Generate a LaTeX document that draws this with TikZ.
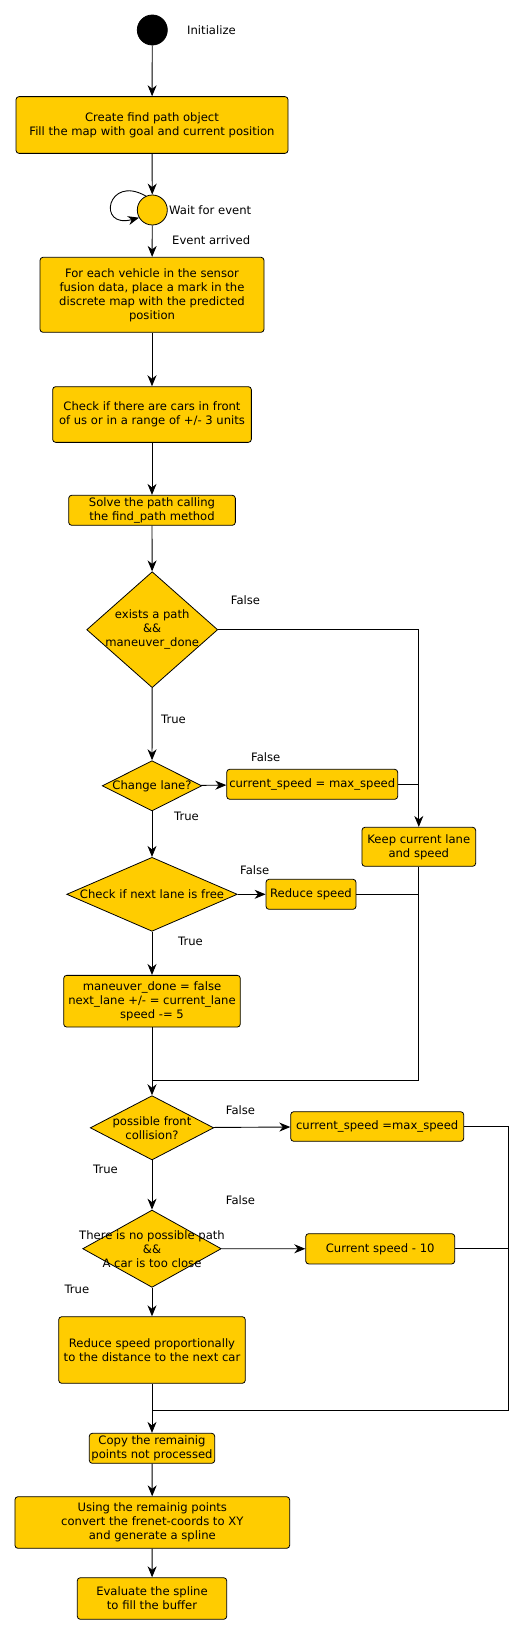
\documentclass[tikz,border=0pt]{standalone}
\usepackage{fontspec}
\setmainfont{DejaVu Sans}
\usepackage{xcolor}
\usetikzlibrary{shapes.geometric, arrows.meta, positioning, calc}
\definecolor{flowyellow}{RGB}{255, 204, 0}

\tikzset{
    stepbox/.style={draw, fill=flowyellow, line width=0.8pt, rounded corners=3pt,
                    inner sep=0pt, align=center},
    decision/.style={diamond, draw, fill=flowyellow, line width=0.8pt, inner sep=0pt},
    dot/.style={circle, draw, line width=0.8pt, minimum size=30pt, inner sep=0pt},
    flowline/.style={line width=0.9pt, -{Stealth[length=11pt, width=9pt, inset=3.5pt]}},
    joinline/.style={line width=0.9pt},
    tag/.style={anchor=west, inner sep=0pt}
}

\begin{document}
\begin{tikzpicture}[x=1pt, y=-1pt, font=\fontsize{11.6}{14}\selectfont]
    \useasboundingbox (0,0) rectangle (529,1635);

    % start and first steps
    \node[dot, fill=black] (start) at (152.3,30) {};
    \node[tag] (initlbl) at (187,30) {Initialize};
    \node[stepbox, minimum width=272pt, minimum height=56.7pt] (create) at (152,125)
        {Create find path object\\Fill the map with goal and current position};
    \node[dot, fill=flowyellow] (wait) at (152.3,210) {};
    \node[tag] (waitlbl) at (169,210) {Wait for event};
    \node[tag] (eventlbl) at (172,240) {Event arrived};
    \node[stepbox, minimum width=224pt, minimum height=75pt] (mark) at (152,294.8)
        {For each vehicle in the sensor\\fusion data, place a mark in the\\discrete map with the predicted\\position};
    \node[stepbox, minimum width=198.7pt, minimum height=55.7pt] (cars) at (152,414.5)
        {Check if there are cars in front\\of us or in a range of +/- 3 units};
    \node[stepbox, minimum width=166.7pt, minimum height=30pt] (solve) at (152,510.3)
        {Solve the path calling\\the find\_path method};

    % lane decisions
    \node[decision, minimum width=131pt, minimum height=116pt,
          label={[align=center]center:exists a path\\\&\&\\maneuver\_done}] (path) at (152.2,629.7) {};
    \node[decision, minimum width=99.4pt, minimum height=50.3pt,
          label={center:Change lane?}] (lane) at (152,785.8) {};
    \node[stepbox, minimum width=171pt, minimum height=30pt] (maxspeed) at (312.2,784.3)
        {current\_speed = max\_speed};
    \node[stepbox, minimum width=113.7pt, minimum height=39pt] (keep) at (418.8,846.8)
        {Keep current lane\\and speed};
    \node[decision, minimum width=170.6pt, minimum height=74pt,
          label={center:Check if next lane is free}] (free) at (152,894.3) {};
    \node[stepbox, minimum width=90pt, minimum height=30pt] (slow) at (311,894.3)
        {Reduce speed};
    \node[stepbox, minimum width=176.6pt, minimum height=51.7pt] (maneuver) at (152,1001.2)
        {maneuver\_done = false\\next\_lane +/- = current\_lane\\speed -= 5};

    % speed decisions
    \node[decision, minimum width=123.4pt, minimum height=64.3pt,
          label={[align=center]center:possible front\\collision?}] (collide) at (152,1127.8) {};
    \node[stepbox, minimum width=173pt, minimum height=29.6pt] (maxspeedb) at (377.2,1126.5)
        {current\_speed =max\_speed};
    \node[decision, minimum width=138.6pt, minimum height=77.3pt,
          label={[align=center]center:There is no possible path\\\&\&\\A car is too close}] (close) at (152,1248.7) {};
    \node[stepbox, minimum width=149pt, minimum height=30.3pt] (minus) at (380.2,1248.8)
        {Current speed - 10};
    \node[stepbox, minimum width=186.6pt, minimum height=66.6pt] (prop) at (152,1350)
        {Reduce speed proportionally\\to the distance to the next car};

    % spline output
    \node[stepbox, minimum width=125.4pt, minimum height=30pt] (copy) at (152,1448.3)
        {Copy the remainig\\points not processed};
    \node[stepbox, minimum width=274.7pt, minimum height=51.6pt] (spline) at (152.3,1522.5)
        {Using the remainig points\\convert the frenet-coords to XY\\and generate a spline};
    \node[stepbox, minimum width=149.4pt, minimum height=41.6pt] (eval) at (152,1598.5)
        {Evaluate the spline\\ to fill the buffer};

    % branch labels
    \node[tag] (f1) at (230.7,600) {False};
    \node[tag] (t1) at (161,719.3) {True};
    \node[tag] (f2) at (251,757.3) {False};
    \node[tag] (t2) at (174,816.7) {True};
    \node[tag] (f3) at (240,869.7) {False};
    \node[tag] (t3) at (178,941.7) {True};
    \node[tag] (f4) at (225.7,1109.7) {False};
    \node[tag] (t4) at (93,1169.7) {True};
    \node[tag] (f5) at (225.7,1199.7) {False};
    \node[tag] (t5) at (64.3,1289.7) {True};

    \coordinate (joina) at (152.3,1080.3);
    \coordinate (joinb) at (152.3,1410);
    \coordinate (rail) at (508.3,1410);

    % connectors
    \draw[flowline] (start) -- (create);
    \draw[flowline] (create) -- (wait);
    \draw[flowline] (wait.115) to[out=150, in=195, looseness=5] (wait.210);
    \draw[flowline] (wait) -- (mark);
    \draw[flowline] (mark) -- (cars);
    \draw[flowline] (cars) -- (solve);
    \draw[flowline] (solve) -- (path);
    \draw[flowline] (path.east) -| (keep.north);
    \draw[flowline] (path) -- (lane);
    \draw[flowline] (lane) -- (maxspeed);
    \draw[joinline] (maxspeed.east) -- (keep.north |- maxspeed.east);
    \draw[flowline] (lane) -- (free);
    \draw[flowline] (free) -- (slow);
    \draw[joinline] (slow.east) -- (keep.south |- slow.east);
    \draw[flowline] (free) -- (maneuver);
    \draw[joinline] (keep.south) |- (joina);
    \draw[flowline] (maneuver) -- (collide);
    \draw[flowline] (collide) -- (maxspeedb);
    \draw[joinline] (maxspeedb.east) -| (rail) -- (joinb);
    \draw[flowline] (collide) -- (close);
    \draw[flowline] (close) -- (minus);
    \draw[joinline] (minus.east) -- (rail |- minus.east);
    \draw[flowline] (close) -- (prop);
    \draw[flowline] (prop) -- (copy);
    \draw[flowline] (copy) -- (spline);
    \draw[flowline] (spline) -- (eval);
\end{tikzpicture}
\end{document}
